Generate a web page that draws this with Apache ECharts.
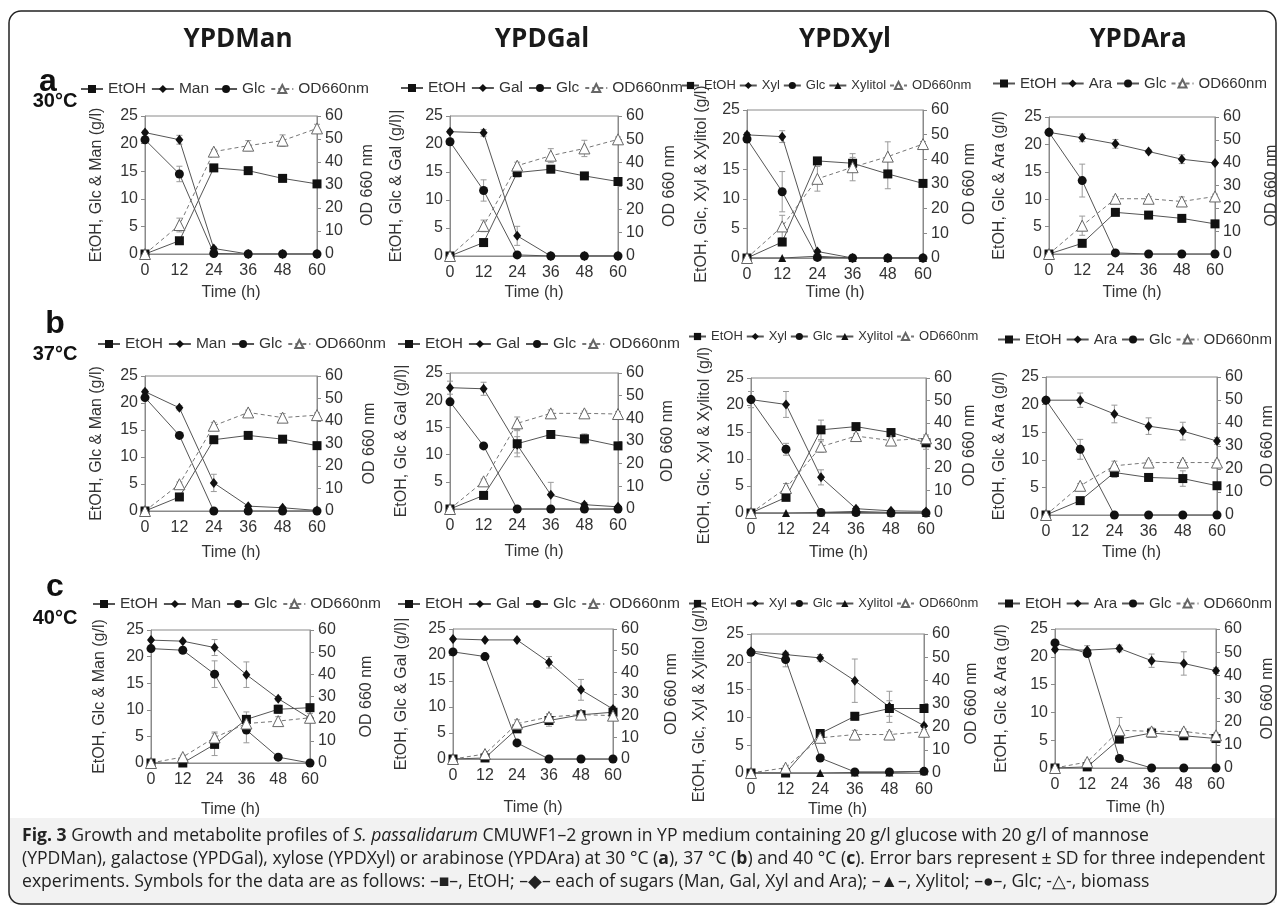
<!DOCTYPE html>
<html>
<head>
<meta charset="utf-8">
<script src="https://cdn.jsdelivr.net/npm/echarts@6/dist/echarts.min.js"></script>
<style>
html, body { margin: 0; padding: 0; background: #fff; }
#chart { width: 1285px; height: 919px; }
</style>
</head>
<body>
<div id="chart"></div>
<script>
// sampling times (h)
var timeH = [0, 12, 24, 36, 48, 60];

// ---- a, 30 °C ----
var aManEtoh = [0, 2.4, 15.6, 15.1, 13.7, 12.7];   var aManEtohSd = [0, 0.5, 0.4, 0.3, 0.4, 0.4];
var aManSugar = [22.0, 20.7, 1.0, 0, 0, 0];        var aManSugarSd = [0.3, 0.8, 0.3, 0, 0, 0];
var aManGlc = [20.7, 14.5, 0.1, 0, 0, 0];          var aManGlcSd = [0.5, 1.4, 0, 0, 0, 0];
var aManOd = [0, 12.6, 44.5, 47.1, 49.3, 54.6];    var aManOdSd = [0, 3.0, 1.0, 2.2, 2.5, 1.8];

var aGalEtoh = [0, 2.4, 14.9, 15.5, 14.3, 13.3];   var aGalEtohSd = [0, 0.4, 0.8, 0.4, 0.4, 0.3];
var aGalSugar = [22.2, 22.0, 3.6, 0, 0, 0];        var aGalSugarSd = [0.3, 0.6, 1.7, 0, 0, 0];
var aGalGlc = [20.4, 11.7, 0.2, 0, 0, 0];          var aGalGlcSd = [0.4, 1.9, 0, 0, 0, 0];
var aGalOd = [0, 12.9, 38.7, 43.0, 46.1, 50.0];    var aGalOdSd = [0, 2.5, 1.5, 3.0, 3.5, 1.0];

var aXylEtoh = [0, 2.7, 16.4, 16.0, 14.2, 12.6];   var aXylEtohSd = [0, 0.6, 0.5, 1.0, 2.5, 0.4];
var aXylSugar = [20.8, 20.5, 1.1, 0, 0, 0];        var aXylSugarSd = [0.4, 1.0, 0.3, 0, 0, 0];
var aXylGlc = [20.1, 11.2, 0.1, 0, 0, 0];          var aXylGlcSd = [0.5, 3.4, 0, 0, 0, 0];
var aXylXylitol = [0, 0, 0.3, 0, 0, 0];            var aXylXylitolSd = [0, 0, 0, 0, 0, 0];
var aXylOd = [0, 12.8, 32.1, 36.8, 41.1, 46.2];    var aXylOdSd = [0, 4.5, 5.0, 5.5, 6.0, 1.0];

var aAraEtoh = [0, 1.95, 7.6, 7.1, 6.5, 5.5];      var aAraEtohSd = [0, 0.5, 0.4, 0.3, 0.3, 0.4];
var aAraSugar = [22.2, 21.2, 20.1, 18.7, 17.3, 16.6]; var aAraSugarSd = [0.3, 0.7, 0.8, 0.3, 0.8, 0.3];
var aAraGlc = [22.2, 13.4, 0.2, 0, 0, 0];          var aAraGlcSd = [0.3, 3.0, 0, 0, 0, 0];
var aAraOd = [0, 12.4, 24.2, 24.2, 23.0, 25.2];    var aAraOdSd = [0, 4.2, 1.0, 1.0, 2.0, 1.0];

// ---- b, 37 °C ----
var bManEtoh = [0, 2.6, 13.2, 14.0, 13.3, 12.1];   var bManEtohSd = [0, 0.6, 0.4, 0.3, 0.3, 0.4];
var bManSugar = [22.1, 19.1, 5.2, 0.9, 0.6, 0.1];  var bManSugarSd = [0.3, 0.4, 1.6, 0.2, 0.2, 0];
var bManGlc = [21.0, 14.0, 0, 0, 0, 0];            var bManGlcSd = [0.4, 0.4, 0, 0, 0, 0];
var bManOd = [0, 11.9, 37.9, 43.8, 41.5, 42.6];    var bManOdSd = [0, 1.0, 1.5, 1.0, 1.8, 1.0];

var bGalEtoh = [0, 2.5, 12.0, 13.7, 12.9, 11.6];   var bGalEtohSd = [0, 0.5, 2.4, 0.5, 0.9, 0.4];
var bGalSugar = [22.3, 22.1, 11.8, 2.6, 0.8, 0.4]; var bGalSugarSd = [1.2, 1.2, 1.5, 2.3, 0.4, 0.2];
var bGalGlc = [19.7, 11.6, 0, 0, 0, 0];            var bGalGlcSd = [0.4, 0.4, 0, 0, 0, 0];
var bGalOd = [0, 12.2, 37.8, 42.2, 42.2, 41.9];    var bGalOdSd = [0, 1.0, 2.8, 1.5, 1.0, 1.0];

var bXylEtoh = [0, 2.9, 15.4, 16.0, 14.9, 13.0];   var bXylEtohSd = [0, 0.5, 1.8, 0.4, 0.4, 1.2];
var bXylSugar = [21.0, 20.1, 6.6, 0.8, 0.4, 0.3];  var bXylSugarSd = [1.5, 2.4, 1.4, 0.3, 0.2, 0.1];
var bXylGlc = [21.0, 11.8, 0.1, 0.1, 0, 0];        var bXylGlcSd = [0.3, 1.1, 0, 0, 0, 0];
var bXylXylitol = [0, 0, 0.1, 0.3, 0.1, 0];        var bXylXylitolSd = [0, 0, 0, 0, 0, 0];
var bXylOd = [0, 11.1, 29.5, 34.2, 32.2, 33.2];    var bXylOdSd = [0, 2.0, 2.5, 1.0, 1.5, 1.5];

var bAraEtoh = [0, 2.6, 7.7, 6.8, 6.6, 5.3];       var bAraEtohSd = [0, 0.4, 0.9, 0.5, 1.4, 0.4];
var bAraSugar = [20.8, 20.8, 18.3, 16.1, 15.2, 13.4]; var bAraSugarSd = [0.4, 1.3, 1.6, 1.5, 1.6, 0.6];
var bAraGlc = [20.8, 11.9, 0, 0, 0, 0];            var bAraGlcSd = [0.4, 1.8, 0, 0, 0, 0];
var bAraOd = [0, 12.7, 21.4, 22.8, 22.8, 22.8];    var bAraOdSd = [0, 1.0, 2.0, 1.0, 1.0, 1.0];

// ---- c, 40 °C ----
var cManEtoh = [0, 0, 3.5, 8.2, 10.1, 10.4];       var cManEtohSd = [0, 0.2, 2.1, 1.4, 0.8, 0.5];
var cManSugar = [23.1, 22.9, 21.7, 16.6, 12.1, 8.4]; var cManSugarSd = [0.2, 0.2, 1.5, 2.4, 0.4, 0.4];
var cManGlc = [21.5, 21.2, 16.7, 6.2, 1.1, 0];     var cManGlcSd = [0.3, 0.3, 2.5, 2.4, 0.3, 0];
var cManOd = [0, 2.7, 11.5, 17.8, 18.9, 20.4];     var cManOdSd = [0, 0.8, 2.5, 2.0, 2.0, 2.0];

var cGalEtoh = [0, 0.2, 5.8, 7.4, 8.5, 9.0];       var cGalEtohSd = [0, 0.1, 0.5, 1.1, 0.8, 0.5];
var cGalSugar = [23.1, 22.9, 22.9, 18.6, 13.3, 9.6]; var cGalSugarSd = [0.2, 0.2, 0.3, 1.1, 2.0, 0.5];
var cGalGlc = [20.6, 19.7, 3.1, 0, 0, 0];          var cGalGlcSd = [0.3, 0.3, 0.3, 0, 0, 0];
var cGalOd = [0, 2.3, 16.3, 19.4, 20.5, 20.0];     var cGalOdSd = [0, 0.8, 1.8, 1.5, 1.8, 1.5];

var cXylEtoh = [0, 0, 7.1, 10.2, 11.6, 11.6];      var cXylEtohSd = [0, 0.1, 0.5, 0.7, 1.4, 0.3];
var cXylSugar = [21.9, 21.3, 20.7, 16.6, 11.9, 8.5]; var cXylSugarSd = [0.3, 0.4, 0.6, 3.9, 2.8, 0.3];
var cXylGlc = [21.7, 20.4, 2.7, 0.2, 0.2, 0.3];    var cXylGlcSd = [0.3, 1.3, 0.2, 0, 0, 0];
var cXylXylitol = [0, 0, 0, 0.1, 0.1, 0.3];        var cXylXylitolSd = [0, 0, 0, 0, 0, 0];
var cXylOd = [0, 2.3, 15.2, 16.6, 16.6, 17.8];     var cXylOdSd = [0, 0.8, 1.5, 1.8, 1.2, 1.0];

var cAraEtoh = [0, 0.2, 5.2, 6.3, 5.8, 5.3];       var cAraEtohSd = [0, 0.1, 0.5, 0.5, 0.7, 0.4];
var cAraSugar = [21.3, 21.2, 21.5, 19.3, 18.8, 17.5]; var cAraSugarSd = [0.3, 0.8, 0.6, 1.2, 2.1, 0.5];
var cAraGlc = [22.5, 20.6, 1.7, 0, 0, 0];          var cAraGlcSd = [0.3, 0.5, 0.2, 0, 0, 0];
var cAraOd = [0, 2.6, 16.3, 15.8, 15.8, 14.1];     var cAraOdSd = [0, 0.8, 5.5, 1.5, 1.0, 1.0];

var FONT = 'Liberation Sans, Arial, sans-serif';

// panel layout + which arrays go where
var panels = [
  {sugar:'Man', yName:'EtOH, Glc & Man (g/l)', etoh:[aManEtoh,aManEtohSd], sug:[aManSugar,aManSugarSd], glc:[aManGlc,aManGlcSd], od:[aManOd,aManOdSd],
   grid:{left:145, top:116, width:172, height:138}, lg:[80, 81], gaps:[40, 43, 31]},
  {sugar:'Gal', yName:'EtOH, Glc & Gal (g/l)|', etoh:[aGalEtoh,aGalEtohSd], sug:[aGalSugar,aGalSugarSd], glc:[aGalGlc,aGalGlcSd], od:[aGalOd,aGalOdSd],
   grid:{left:450, top:116, width:168, height:140}, lg:[400, 80], gaps:[45, 44, 29]},
  {sugar:'Xyl', yName:'EtOH, Glc, Xyl & Xylitol (g/l)', etoh:[aXylEtoh,aXylEtohSd], sug:[aXylSugar,aXylSugarSd], glc:[aXylGlc,aXylGlcSd], xyl:[aXylXylitol,aXylXylitolSd], od:[aXylOd,aXylOdSd],
   grid:{left:747, top:110, width:176, height:148}, lg:[681, 79], gaps:[37, 39, 27]},
  {sugar:'Ara', yName:'EtOH, Glc & Ara (g/l)', etoh:[aAraEtoh,aAraEtohSd], sug:[aAraSugar,aAraSugarSd], glc:[aAraGlc,aAraGlcSd], od:[aAraOd,aAraOdSd],
   grid:{left:1049, top:117, width:166, height:137}, lg:[992, 76], gaps:[41, 49, 31]},

  {sugar:'Man', yName:'EtOH, Glc & Man (g/l)', etoh:[bManEtoh,bManEtohSd], sug:[bManSugar,bManSugarSd], glc:[bManGlc,bManGlcSd], od:[bManOd,bManOdSd],
   grid:{left:145, top:376, width:172, height:135}, lg:[97, 336], gaps:[40, 45, 34]},
  {sugar:'Gal', yName:'EtOH, Glc & Gal (g/l)|', etoh:[bGalEtoh,bGalEtohSd], sug:[bGalSugar,bGalSugarSd], glc:[bGalGlc,bGalGlcSd], od:[bGalOd,bGalOdSd],
   grid:{left:450, top:373, width:168, height:136}, lg:[397, 336], gaps:[40, 42, 35]},
  {sugar:'Xyl', yName:'EtOH, Glc, Xyl & Xylitol (g/l)', etoh:[bXylEtoh,bXylEtohSd], sug:[bXylSugar,bXylSugarSd], glc:[bXylGlc,bXylGlcSd], xyl:[bXylXylitol,bXylXylitolSd], od:[bXylOd,bXylOdSd],
   grid:{left:751, top:378, width:175, height:135}, lg:[688, 330], gaps:[38, 36, 32]},
  {sugar:'Ara', yName:'EtOH, Glc & Ara (g/l)', etoh:[bAraEtoh,bAraEtohSd], sug:[bAraSugar,bAraSugarSd], glc:[bAraGlc,bAraGlcSd], od:[bAraOd,bAraOdSd],
   grid:{left:1046, top:377, width:171, height:138}, lg:[997, 332], gaps:[38, 43, 30]},

  {sugar:'Man', yName:'EtOH, Glc & Man (g/l)', etoh:[cManEtoh,cManEtohSd], sug:[cManSugar,cManSugarSd], glc:[cManGlc,cManGlcSd], od:[cManOd,cManOdSd],
   grid:{left:151, top:630, width:159, height:133}, lg:[92, 596], gaps:[43, 49, 39]},
  {sugar:'Gal', yName:'EtOH, Glc & Gal (g/l)|', etoh:[cGalEtoh,cGalEtohSd], sug:[cGalSugar,cGalSugarSd], glc:[cGalGlc,cGalGlcSd], od:[cGalOd,cGalOdSd],
   grid:{left:453, top:629, width:160, height:130}, lg:[397, 596], gaps:[43, 51, 41]},
  {sugar:'Xyl', yName:'EtOH, Glc, Xyl & Xylitol (g/l)', etoh:[cXylEtoh,cXylEtohSd], sug:[cXylSugar,cXylSugarSd], glc:[cXylGlc,cXylGlcSd], xyl:[cXylXylitol,cXylXylitolSd], od:[cXylOd,cXylOdSd],
   grid:{left:751, top:634, width:173, height:139}, lg:[688, 597], gaps:[43, 40, 29]},
  {sugar:'Ara', yName:'EtOH, Glc & Ara (g/l)', etoh:[cAraEtoh,cAraEtohSd], sug:[cAraSugar,cAraSugarSd], glc:[cAraGlc,cAraGlcSd], od:[cAraOd,cAraOdSd],
   grid:{left:1055, top:629, width:161, height:139}, lg:[997, 596], gaps:[45, 44, 32]}
];

var chart = echarts.init(document.getElementById('chart'), null, {renderer: 'canvas'});

var axisGray = '#8a8a8a';
var lineGray = '#555';

function pts(arr) { return timeH.map(function (t, k) { return [t, arr[k]]; }); }
function errPts(arr, sd) { return timeH.map(function (t, k) { return [t, arr[k], sd[k]]; }); }

function renderErr(params, api) {
  var e = api.value(2);
  if (!e) return null;
  var x = api.value(0), y = api.value(1);
  var hi = api.coord([x, y + e]);
  var lo = api.coord([x, Math.max(0, y - e)]);
  var st = {stroke: '#9a9a9a', lineWidth: 1};
  return {type: 'group', children: [
    {type: 'line', shape: {x1: hi[0], y1: hi[1], x2: lo[0], y2: lo[1]}, style: st},
    {type: 'line', shape: {x1: hi[0] - 3, y1: hi[1], x2: hi[0] + 3, y2: hi[1]}, style: st},
    {type: 'line', shape: {x1: lo[0] - 3, y1: lo[1], x2: lo[0] + 3, y2: lo[1]}, style: st}
  ]};
}

var grids = [], xAxes = [], yAxes = [], series = [], legends = [];

panels.forEach(function (p, i) {
  grids.push(Object.assign({show: true, borderColor: axisGray, borderWidth: 1}, p.grid));
  var lab = {fontSize: 16, color: '#333', fontFamily: FONT};
  xAxes.push({
    gridIndex: i, type: 'value', min: 0, max: 60, interval: 12,
    name: 'Time (h)', nameLocation: 'middle', nameGap: p.gaps[2],
    nameTextStyle: lab,
    axisLine: {lineStyle: {color: axisGray}}, axisTick: {show: false},
    axisLabel: Object.assign({margin: 9}, lab), splitLine: {show: false}
  });
  yAxes.push({
    gridIndex: i, type: 'value', min: 0, max: 25, interval: 5, position: 'left',
    name: p.yName, nameLocation: 'middle', nameGap: p.gaps[0], nameRotate: 90,
    nameTextStyle: lab,
    axisLine: {show: true, lineStyle: {color: axisGray}},
    axisTick: {show: true, length: 4, lineStyle: {color: axisGray}},
    axisLabel: Object.assign({margin: 7}, lab), splitLine: {show: false}
  });
  yAxes.push({
    gridIndex: i, type: 'value', min: 0, max: 60, interval: 10, position: 'right',
    name: 'OD 660 nm', nameLocation: 'middle', nameGap: p.gaps[1], nameRotate: 90,
    nameTextStyle: lab,
    axisLine: {show: true, lineStyle: {color: axisGray}},
    axisTick: {show: true, length: 4, lineStyle: {color: axisGray}},
    axisLabel: Object.assign({margin: 8}, lab), splitLine: {show: false}
  });
  var yl = 2 * i, yr = 2 * i + 1;
  function line(name, d, sym, size, yIdx, extra) {
    return Object.assign({
      type: 'line', name: name, xAxisIndex: i, yAxisIndex: yIdx, data: pts(d),
      symbol: sym, symbolSize: size, showSymbol: true, z: 3,
      lineStyle: {color: lineGray, width: 1},
      itemStyle: {color: '#111', borderWidth: 0},
      animation: false
    }, extra || {});
  }
  var names = ['EtOH', p.sugar, 'Glc'];
  series.push(line('EtOH', p.etoh[0], 'rect', 9, yl));
  series.push(line(p.sugar, p.sug[0], 'diamond', [8, 10], yl));
  series.push(line('Glc', p.glc[0], 'circle', 9, yl));
  var leftErr = errPts(p.etoh[0], p.etoh[1]).concat(errPts(p.sug[0], p.sug[1]), errPts(p.glc[0], p.glc[1]));
  if (p.xyl) {
    series.push(line('Xylitol', p.xyl[0], 'triangle', 8, yl));
    leftErr = leftErr.concat(errPts(p.xyl[0], p.xyl[1]));
    names.push('Xylitol');
  }
  series.push(line('OD660nm', p.od[0], 'triangle', 11, yr, {
    lineStyle: {color: '#777', width: 1, type: [4, 3]},
    itemStyle: {color: '#fff', borderColor: '#666', borderWidth: 1}
  }));
  names.push('OD660nm');
  series.push({type: 'custom', xAxisIndex: i, yAxisIndex: yl, renderItem: renderErr, data: leftErr, z: 1, silent: true, animation: false});
  series.push({type: 'custom', xAxisIndex: i, yAxisIndex: yr, renderItem: renderErr, data: errPts(p.od[0], p.od[1]), z: 1, silent: true, animation: false});

  var small = !!p.xyl;
  var ara = p.sugar === 'Ara';
  legends.push({
    left: p.lg[0], top: p.lg[1], padding: 0, orient: 'horizontal', width: 400,
    data: names, selectedMode: false,
    itemWidth: small ? 17 : 22, itemHeight: small ? 9 : 10, itemGap: small ? 3 : (ara ? 4 : 5),
    textStyle: {fontSize: small ? 13 : (ara ? 15 : 15.5), color: '#333', fontFamily: FONT}
  });
});

var graphics = [
  {type: 'rect', shape: {x: 10, y: 818, width: 1265, height: 85}, style: {fill: '#f2f2f2'}, z: -1},
  {type: 'rect', shape: {x: 9, y: 11, width: 1267, height: 893, r: 12}, style: {fill: 'none', stroke: '#222', lineWidth: 1.5}, z: 0}
];
var colTitles = [['YPDMan', 238], ['YPDGal', 542], ['YPDXyl', 845], ['YPDAra', 1138]];
colTitles.forEach(function (c) {
  graphics.push({type: 'text', x: c[1], y: 40, style: {text: c[0], fill: '#1a1a1a', font: 'bold 26px "Open Sans", sans-serif', textAlign: 'center', textVerticalAlign: 'middle'}});
});
var rowLabels = [['a', 30, 48, 82, 101], ['b', 37, 55, 324, 354], ['c', 40, 55, 587, 618]];
rowLabels.forEach(function (r) {
  graphics.push({type: 'text', x: r[2], y: r[3], style: {text: r[0], fill: '#111', font: 'bold 32px "Liberation Sans", Arial, sans-serif', textAlign: 'center', textVerticalAlign: 'middle'}});
  graphics.push({type: 'text', x: 55, y: r[4], style: {text: r[1] + '\u00b0C', fill: '#111', font: 'bold 20px "Liberation Sans", Arial, sans-serif', textAlign: 'center', textVerticalAlign: 'middle'}});
});

var capSize = 17.6;
var capRich = {
  b: {fontWeight: 'bold', fontSize: capSize, fontFamily: 'Open Sans', color: '#222'},
  i: {fontStyle: 'italic', fontSize: capSize, fontFamily: 'Open Sans', color: '#222'}
};
var captionLines = [
  '{b|Fig. 3} Growth and metabolite profiles of {i|S. passalidarum} CMUWF1\u20132 grown in YP medium containing 20 g/l glucose with 20 g/l of mannose',
  '(YPDMan), galactose (YPDGal), xylose (YPDXyl) or arabinose (YPDAra) at 30 \u00b0C ({b|a}), 37 \u00b0C ({b|b}) and 40 \u00b0C ({b|c}). Error bars represent \u00b1 SD for three independent',
  'experiments. Symbols for the data are as follows: \u2013\u25a0\u2013, EtOH; \u2013\u25c6\u2013 each of sugars (Man, Gal, Xyl and Ara); \u2013\u25b2\u2013, Xylitol; \u2013\u25cf\u2013, Glc; -\u25b3-, biomass'
];
captionLines.forEach(function (t, k) {
  graphics.push({type: 'text', x: 22, y: 836 + k * 23, style: {text: t, rich: capRich, fill: '#222', fontSize: capSize, fontFamily: 'Open Sans', textVerticalAlign: 'middle'}});
});

chart.setOption({
  backgroundColor: '#fff',
  animation: false,
  grid: grids,
  xAxis: xAxes,
  yAxis: yAxes,
  legend: legends,
  series: series,
  graphic: graphics
});
</script>
</body>
</html>
